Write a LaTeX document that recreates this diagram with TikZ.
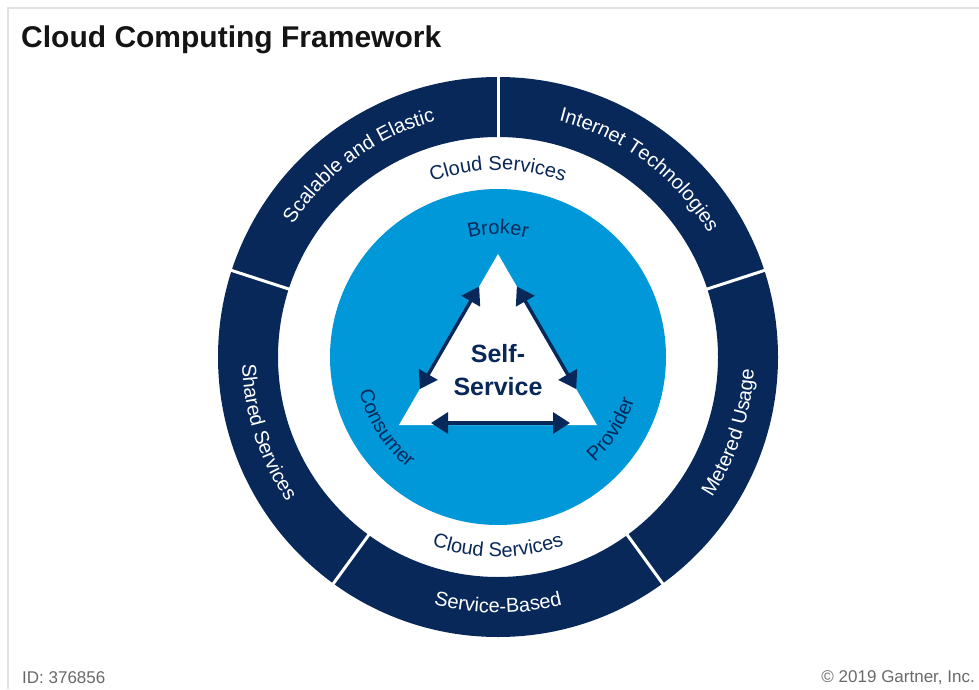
\documentclass[tikz,border=0pt]{standalone}
\usepackage{fontspec}
\setmainfont{Liberation Sans}
\usetikzlibrary{arrows.meta,decorations.text,calc}
\definecolor{navy}{RGB}{8,40,90}
\definecolor{cblue}{RGB}{0,152,216}
\definecolor{frameg}{RGB}{226,226,226}
\definecolor{footg}{RGB}{105,105,105}
\definecolor{titleblack}{RGB}{20,20,20}
\newcommand\ringfont{\fontsize{20}{24}\selectfont}
\tikzset{
  whitearc/.style={decoration={text along path, text align=center, text color=white}},
  navyarc/.style={decoration={text along path, text align=center, text color=navy}},
  dblarrow/.style={navy, line width=3.4pt, {Triangle[length=17pt,width=21pt]}-{Triangle[length=17pt,width=21pt]}},
  gapline/.style={white, line width=3pt}
}
\begin{document}
\begin{tikzpicture}[x=1pt,y=1pt]
\useasboundingbox (0,0) rectangle (979,689);
\draw[frameg, line width=1.5pt] (8,0) -- (8,681) -- (979,681);
\node[anchor=west, font=\fontsize{30}{35}\selectfont\bfseries, text=titleblack, inner sep=0] (title) at (21,649) {Cloud Computing Framework};
\node[anchor=west, font=\fontsize{17}{20}\selectfont, text=footg, inner sep=0] (id) at (22,11) {ID: 376856};
\node[anchor=east, font=\fontsize{17}{20}\selectfont, text=footg, inner sep=0] (copy) at (975,11) {© 2019 Gartner, Inc.};
\begin{scope}[shift={(498,332)}]
  \coordinate (ctr) at (0,0);
  \fill[navy, even odd rule] (ctr) circle[radius=280] (ctr) circle[radius=220];
  \foreach \a in {18,90,162,234,306} \draw[gapline] (\a:214) -- (\a:286);
  \fill[cblue] (ctr) circle[radius=168];
  % triangle
  \coordinate (apex) at (0,103);
  \coordinate (bl) at (-99,-68);
  \coordinate (br) at (99,-68);
  \fill[white] (apex) -- (bl) -- (br) -- cycle;
  \coordinate (l1) at ($(apex)!0.19!(bl)$);
  \coordinate (l2) at ($(apex)!0.79!(bl)$);
  \coordinate (r1) at ($(apex)!0.19!(br)$);
  \coordinate (r2) at ($(apex)!0.79!(br)$);
  \coordinate (b1) at (-67,-66);
  \coordinate (b2) at (72,-66);
  \draw[dblarrow] (l1) -- (l2);
  \draw[dblarrow] (r1) -- (r2);
  \draw[dblarrow] (b1) -- (b2);
  \node[font=\fontsize{25}{33}\selectfont\bfseries, text=navy, align=center, inner sep=0] (self) at (0,-13) {Self-\\Service};
  % outer ring labels
  \path[whitearc, decoration={text={|\ringfont|Scalable and Elastic}}, decorate] (158:244) arc[start angle=158, end angle=94, radius=244];
  \path[whitearc, decoration={text={|\ringfont|Internet Technologies}}, decorate] (86:244) arc[start angle=86, end angle=20, radius=244];
  \path[whitearc, decoration={text={|\ringfont|Metered Usage}}, decorate] (-50:256) arc[start angle=-50, end angle=14, radius=256];
  \path[whitearc, decoration={text={|\ringfont|Service-Based}}, decorate] (-122:256) arc[start angle=-122, end angle=-58, radius=256];
  \path[whitearc, decoration={text={|\ringfont|Shared Services}}, decorate] (165:256) arc[start angle=165, end angle=231, radius=256];
  % white band labels
  \path[navyarc, decoration={text={|\ringfont|Cloud Services}}, decorate] (115:187) arc[start angle=115, end angle=65, radius=187];
  \path[navyarc, decoration={text={|\ringfont|Cloud Services}}, decorate] (-115:200) arc[start angle=-115, end angle=-65, radius=200];
  % inner labels
  \path[navyarc, decoration={text={|\ringfont|Broker}}, decorate] (118:123) arc[start angle=118, end angle=62, radius=123];
  \path[navyarc, decoration={text={|\ringfont|Consumer}}, decorate] (180:143) arc[start angle=180, end angle=245, radius=143];
  \path[navyarc, decoration={text={|\ringfont|Provider}}, decorate] (-65:143) arc[start angle=-65, end angle=0, radius=143];
\end{scope}
\end{tikzpicture}
\end{document}
